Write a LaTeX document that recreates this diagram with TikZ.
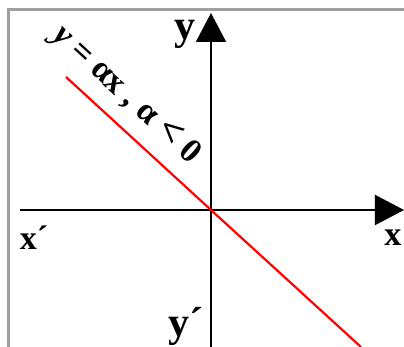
\documentclass[tikz,border=0pt]{standalone}
\usepackage{fontspec}
\setmainfont{Liberation Serif}
\usetikzlibrary{arrows.meta}
\begin{document}
\begin{tikzpicture}[x=0.5pt,y=-0.5pt,
  axis/.style={line width=1pt,black,-{Triangle[width=15pt,length=14.5pt]}},
  lbl/.style={inner sep=0pt,font=\fontsize{17}{19}\selectfont\bfseries}]
\useasboundingbox (0,0) rectangle (404,347);

% frame (top and left only)
\draw[gray!75,line width=1.5pt] (9,347) -- (9,10) -- (404,10);

% axes
\coordinate (O) at (211,210);
\coordinate (xneg) at (20,210);
\coordinate (xpos) at (404,210);
\coordinate (yneg) at (211,347);
\coordinate (ypos) at (211,13);
\draw[axis] (xneg) -- (xpos);
\draw[axis] (yneg) -- (ypos);

% line y = ax through the origin
\coordinate (lstart) at (66,77);
\coordinate (lend) at (361,347);
\draw[red,line width=1.1pt] (lstart) -- (O) -- (lend);

% axis labels
\node[lbl,font=\fontsize{21}{23}\selectfont\bfseries] (ylbl) at (185,34) {y};
\node[lbl] (xlbl) at (393,238) {x};
\node[lbl] (xplbl) at (34,238) {x´};
\node[lbl,font=\fontsize{21}{23}\selectfont\bfseries] (yplbl) at (186,326) {y´};

% equation along the line
\node[lbl,rotate=-42.5] (eq) at (126,95)
  {\textit{y} = αx~, α~{\fontsize{20}{20}\selectfont<}~0};
\end{tikzpicture}
\end{document}
